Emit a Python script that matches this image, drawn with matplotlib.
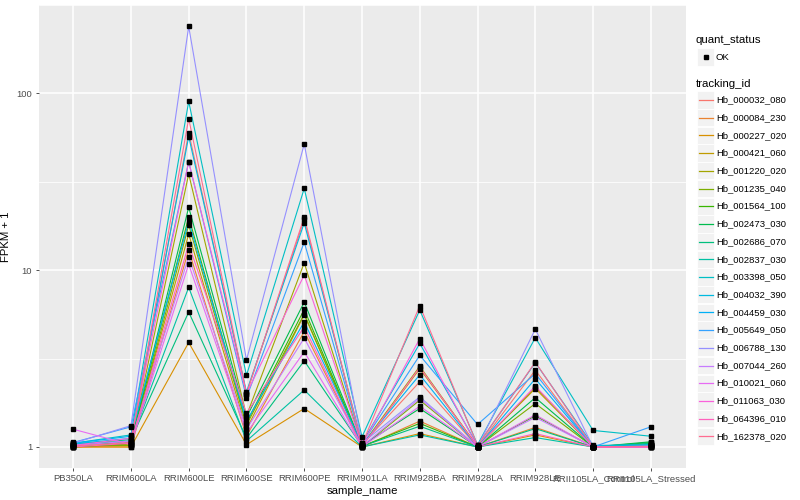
"""FPKM + 1 per sample for a set of tracking ids, ggplot2-style look."""

import matplotlib
matplotlib.use("Agg")
import matplotlib.pyplot as plt
from matplotlib.patches import Rectangle
from matplotlib.lines import Line2D

plt.rcParams["font.family"] = ["Liberation Sans", "DejaVu Sans"]

samples = ["PB350LA", "RRIM600LA", "RRIM600LE", "RRIM600SE", "RRIM600PE",
           "RRIM901LA", "RRIM928BA", "RRIM928LA", "RRIM928LE",
           "RRII105LA_Control", "RRII105LA_Stressed"]

tracking_ids = ["Hb_000032_080", "Hb_000084_230", "Hb_000227_020", "Hb_000421_060",
                "Hb_001220_020", "Hb_001235_040", "Hb_001564_100", "Hb_002473_030",
                "Hb_002686_070", "Hb_002837_030", "Hb_003398_050", "Hb_004032_390",
                "Hb_004459_030", "Hb_005649_050", "Hb_006788_130", "Hb_007044_260",
                "Hb_010021_060", "Hb_011063_030", "Hb_064396_010", "Hb_162378_020"]

# ggplot2 default hue palette for 20 levels
hue_colors = ["#F8766D", "#EA8331", "#D89000", "#C09B00", "#A3A500", "#7CAE00",
              "#39B600", "#00BB4E", "#00BF7D", "#00C1A3", "#00BFC4", "#00BAE0",
              "#00B0F6", "#35A2FF", "#9590FF", "#C77CFF", "#E76BF3", "#FA62DB",
              "#FF62BC", "#FF6C91"]

# FPKM + 1, one list per tracking id, in sample order
hb_000032_080 = [1.00, 1.02, 60, 2.00, 19.4, 1.03, 2.34, 1.00, 2.72, 1.00, 1.02]
hb_000084_230 = [1.00, 1.00, 13, 1.15, 4.5, 1.00, 1.40, 1.00, 1.29, 1.00, 1.00]
hb_000227_020 = [1.00, 1.00, 3.9, 1.03, 1.65, 1.00, 1.19, 1.00, 1.17, 1.00, 1.00]
hb_000421_060 = [1.01, 1.03, 16, 1.26, 5.6, 1.01, 2.77, 1.01, 2.14, 1.00, 1.03]
hb_001220_020 = [1.00, 1.04, 35, 1.50, 11, 1.02, 2.86, 1.00, 2.18, 1.01, 1.02]
hb_001235_040 = [1.02, 1.02, 18, 1.33, 5.66, 1.00, 1.84, 1.00, 1.76, 1.00, 1.04]
hb_001564_100 = [1.00, 1.05, 20, 1.37, 6.0, 1.01, 1.36, 1.00, 1.50, 1.00, 1.06]
hb_002473_030 = [1.03, 1.06, 22.7, 1.47, 6.6, 1.02, 1.65, 1.00, 1.90, 1.00, 1.07]
hb_002686_070 = [1.04, 1.10, 5.8, 1.12, 3.07, 1.01, 1.31, 1.00, 1.27, 1.00, 1.05]
hb_002837_030 = [1.03, 1.08, 8.0, 1.08, 2.1, 1.00, 1.17, 1.00, 1.13, 1.00, 1.03]
hb_003398_050 = [1.05, 1.17, 90, 2.54, 29, 1.14, 5.95, 1.03, 4.15, 1.24, 1.15]
hb_004032_390 = [1.04, 1.12, 57, 2.05, 18.5, 1.05, 3.85, 1.02, 3.00, 1.02, 1.03]
hb_004459_030 = [1.05, 1.15, 18.9, 1.40, 5.1, 1.03, 2.56, 1.00, 2.43, 1.00, 1.02]
hb_005649_050 = [1.06, 1.30, 41, 1.90, 14.4, 1.04, 3.30, 1.34, 2.60, 1.00, 1.30]
hb_006788_130 = [1.05, 1.32, 239, 3.10, 51.7, 1.05, 1.92, 1.00, 4.64, 1.00, 1.01]
hb_007044_260 = [1.02, 1.08, 11.9, 1.26, 4.13, 1.01, 1.88, 1.00, 1.47, 1.00, 1.00]
hb_010021_060 = [1.26, 1.03, 10.8, 1.20, 3.45, 1.00, 1.70, 1.00, 1.52, 1.00, 1.00]
hb_011063_030 = [1.02, 1.12, 41, 2.00, 9.4, 1.02, 4.10, 1.00, 2.21, 1.00, 1.00]
hb_064396_010 = [1.00, 1.05, 14, 1.55, 4.78, 1.00, 2.82, 1.00, 1.19, 1.00, 1.00]
hb_162378_020 = [1.01, 1.06, 72, 2.00, 20, 1.03, 6.30, 1.02, 3.02, 1.00, 1.01]

series = [hb_000032_080, hb_000084_230, hb_000227_020, hb_000421_060, hb_001220_020,
          hb_001235_040, hb_001564_100, hb_002473_030, hb_002686_070, hb_002837_030,
          hb_003398_050, hb_004032_390, hb_004459_030, hb_005649_050, hb_006788_130,
          hb_007044_260, hb_010021_060, hb_011063_030, hb_064396_010, hb_162378_020]

fig = plt.figure(figsize=(8, 5), dpi=100)
ax = fig.add_axes([38.5 / 800, 1 - 468 / 500, (685.5 - 38.5) / 800, 463 / 500])
ax.set_facecolor("#EBEBEB")

x = list(range(len(samples)))
for vals, col in zip(series, hue_colors):
    ax.plot(x, vals, color=col, lw=0.8, zorder=2)
for vals in series:
    ax.plot(x, vals, ls="none", marker="s", ms=2.6, color="black", zorder=3)

ax.set_yscale("log")
ax.set_ylim(10 ** -0.119, 10 ** 2.497)
ax.set_xlim(-0.6, len(samples) - 1 + 0.6)
ax.set_yticks([1, 10, 100])
ax.set_yticklabels(["1", "10", "100"])
ax.set_yticks([10 ** 0.5, 10 ** 1.5, 10 ** 2.5], minor=True)
ax.yaxis.set_minor_formatter(plt.NullFormatter())
ax.set_xticks(x)
ax.set_xticklabels(samples)

ax.grid(True, which="major", color="white", lw=1.1, zorder=0)
ax.grid(True, which="minor", axis="y", color="white", lw=0.55, zorder=0)
ax.set_axisbelow(True)
for s in ax.spines.values():
    s.set_visible(False)
ax.tick_params(which="major", length=2.5, width=0.6, color="#333333",
               labelsize=6.8, labelcolor="#4D4D4D", pad=2)
ax.tick_params(which="minor", length=0)
ax.set_xlabel("sample_name", fontsize=8.2, labelpad=2)
ax.set_ylabel("FPKM + 1", fontsize=8.2, labelpad=4)

# legends drawn in pixel space on an overlay axes
lax = fig.add_axes([0, 0, 1, 1], facecolor="none")
lax.set_xlim(0, 800)
lax.set_ylim(500, 0)
lax.axis("off")

key = 17.3
lax.text(696, 40, "quant_status", fontsize=8.2, va="center", ha="left")
lax.add_patch(Rectangle((697, 57 - key / 2), key, key, facecolor="#F2F2F2",
                        edgecolor="white", lw=0.6))
lax.plot([697 + key / 2], [57], marker="s", ms=2.6, color="black")
lax.text(716, 57, "OK", fontsize=6.8, va="center", ha="left")

lax.text(696, 84, "tracking_id", fontsize=8.2, va="center", ha="left")
for i, (tid, col) in enumerate(zip(tracking_ids, hue_colors)):
    cy = 100 + i * 17.7
    lax.add_patch(Rectangle((697, cy - key / 2), key, key, facecolor="#F2F2F2",
                            edgecolor="white", lw=0.6))
    lax.add_line(Line2D([698.5, 697 + key - 1.5], [cy, cy], color=col, lw=0.9))
    lax.text(716, cy, tid, fontsize=6.8, va="center", ha="left")

fig.savefig("out.png", dpi=100)
